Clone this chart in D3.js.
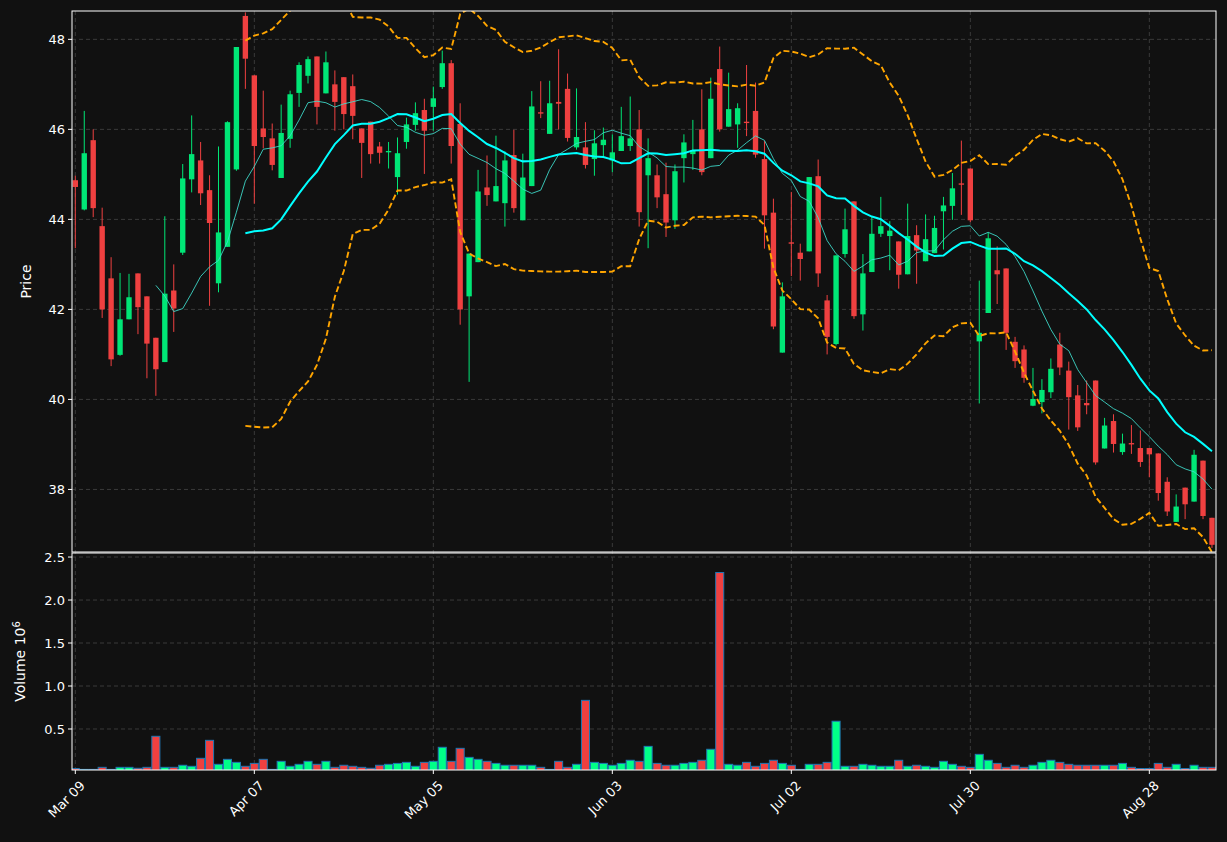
<!DOCTYPE html>
<html><head><meta charset="utf-8">
<script src="https://cdn.jsdelivr.net/npm/d3@7"></script>
<style>html,body{margin:0;background:#111111;}svg{display:block;font-family:"DejaVu Sans",sans-serif;}</style>
</head><body><svg id="c" width="1227" height="842"></svg>
<script>
const opens  = [44.87,44.22,45.76,43.85,42.69,40.99,41.78,42.80,42.29,41.37,40.83,42.42,43.26,44.89,45.31,44.65,42.58,43.39,45.11,48.52,
47.20,46.02,45.80,44.92,45.79,46.81,47.19,47.62,46.80,47.00,47.16,46.96,46.02,46.17,45.62,45.49,44.94,45.72,46.10,46.43,
46.50,46.94,47.47,46.12,42.29,43.05,44.71,44.40,44.36,45.43,43.98,44.74,46.38,45.90,46.61,46.90,45.60,45.60,45.34,45.65,
45.31,45.52,45.63,46.00,44.98,44.98,44.56,43.98,45.36,45.45,46.00,45.36,47.34,46.06,46.11,46.17,46.41,45.34,44.15,41.04,
43.49,43.26,43.29,44.96,42.20,41.23,43.23,44.40,41.89,42.83,43.68,43.63,43.51,42.78,43.65,43.07,43.25,44.18,44.30,44.80,
45.13,41.29,41.92,42.87,42.91,41.28,41.11,39.86,39.94,40.16,41.22,40.64,40.09,39.92,40.42,38.91,39.52,38.83,39.03,38.92,
38.92,38.80,38.17,37.28,38.04,37.73,38.64,37.37];
const highs  = [44.97,46.41,46.00,44.26,43.16,42.81,42.79,42.80,42.29,41.37,44.07,43.00,45.23,46.31,45.72,44.98,45.62,46.18,47.83,48.60,
47.20,46.86,46.13,46.55,46.86,47.49,47.62,47.62,47.73,47.31,47.16,47.22,46.02,46.17,45.72,45.72,45.82,46.26,46.60,46.68,
46.95,47.75,47.54,46.58,43.24,45.10,45.42,45.86,45.51,45.99,45.46,46.85,47.07,47.08,47.78,47.24,46.91,46.16,45.98,46.04,
45.89,46.50,46.73,46.43,45.80,45.22,45.26,45.22,45.89,46.21,46.89,47.15,47.84,47.26,46.58,47.43,47.04,45.74,44.46,42.60,
44.61,43.46,44.94,45.33,42.32,43.20,44.24,44.40,43.23,44.07,44.50,43.96,43.51,44.35,43.87,44.11,44.08,44.50,45.03,45.75,
45.13,42.64,43.71,43.40,42.91,41.39,41.20,40.70,40.45,40.91,41.48,40.84,40.32,40.42,40.42,39.59,39.67,39.24,39.43,39.31,
38.92,38.80,38.27,37.89,38.04,38.88,38.64,37.37];
const lows   = [43.36,44.20,44.05,41.81,40.74,40.97,41.78,41.45,40.47,40.08,40.83,41.50,43.21,44.60,44.32,42.08,42.38,43.39,45.08,46.90,
44.35,45.58,45.09,44.92,45.59,46.50,47.02,46.11,46.80,45.97,46.00,45.78,44.92,45.24,45.24,45.13,44.55,45.57,45.97,45.01,
45.97,46.90,45.24,41.66,40.39,43.05,44.30,44.40,43.84,44.15,43.98,44.74,46.25,45.90,46.00,45.73,45.55,45.13,44.97,45.39,
45.05,45.52,45.52,43.84,43.36,44.25,43.61,43.79,44.82,45.10,44.98,45.36,45.95,46.06,45.59,45.85,45.37,43.35,41.56,41.04,
42.74,42.64,43.29,42.50,41.00,41.20,43.15,41.79,41.53,42.83,43.61,42.87,42.46,42.78,42.57,43.07,43.25,43.33,43.99,44.10,
43.94,39.91,41.92,42.12,41.10,40.70,40.37,39.85,39.69,40.03,40.54,39.33,39.30,39.67,38.55,38.91,38.82,38.77,38.79,38.50,
38.27,37.75,37.41,37.28,37.34,37.73,37.34,36.70];
const closes = [44.72,45.47,44.25,42.00,40.89,41.78,42.27,42.05,41.24,40.67,42.35,42.02,44.91,45.45,44.58,43.92,43.71,46.16,47.83,47.57,
45.63,45.83,45.21,45.92,46.78,47.43,47.56,46.50,47.49,46.61,46.34,46.30,45.70,45.45,45.48,45.52,45.47,46.11,46.36,45.97,
46.69,47.47,45.63,42.00,43.24,44.62,44.54,44.74,45.31,44.25,44.93,46.51,46.35,46.58,46.57,45.81,45.83,45.21,45.69,45.77,
45.49,45.85,45.80,44.16,45.36,44.49,43.93,45.07,45.71,45.54,45.05,46.68,46.00,46.45,46.47,46.14,45.44,44.09,41.62,42.29,
43.46,43.12,44.94,42.80,41.39,43.20,43.78,41.85,42.80,43.68,43.85,43.75,42.77,43.63,43.31,43.56,43.81,44.31,44.69,44.77,
43.98,41.48,43.58,42.78,41.48,40.85,40.48,40.01,40.21,40.68,40.71,40.05,39.38,39.87,38.60,39.42,39.01,39.02,39.00,38.61,
38.78,37.92,37.51,37.62,37.67,38.77,37.41,36.77];
const volumes = [0.04,0.03,0.03,0.054,0.03,0.054,0.054,0.043,0.054,0.415,0.054,0.054,0.078,0.066,0.159,0.368,0.089,0.147,0.112,0.066,
0.10,0.147,0.03,0.124,0.066,0.089,0.124,0.089,0.124,0.054,0.078,0.066,0.054,0.043,0.078,0.089,0.10,0.112,0.066,0.112,
0.124,0.287,0.124,0.275,0.17,0.147,0.124,0.10,0.078,0.078,0.078,0.078,0.054,0.03,0.124,0.054,0.089,0.833,0.112,0.10,
0.078,0.10,0.136,0.124,0.298,0.10,0.078,0.078,0.10,0.112,0.136,0.264,2.32,0.089,0.078,0.112,0.066,0.10,0.136,0.10,
0.078,0.03,0.089,0.089,0.112,0.59,0.066,0.066,0.089,0.078,0.066,0.066,0.136,0.066,0.078,0.066,0.054,0.124,0.089,0.066,
0.054,0.205,0.136,0.10,0.054,0.078,0.054,0.078,0.112,0.136,0.112,0.089,0.078,0.078,0.078,0.078,0.078,0.10,0.054,0.04,
0.04,0.10,0.054,0.089,0.04,0.078,0.054,0.054];
const tickIndex = [0,20,40,60,80,100,120];
const tickLabels = ["Mar 09","Apr 07","May 05","Jun 03","Jul 02","Jul 30","Aug 28"];
const priceTicks = [38,40,42,44,46,48];
const volumeTicks = [0.5,1.0,1.5,2.0,2.5];

const UP="#00e676", DOWN="#ef4040", GRID="#3a3a3a";
const n = closes.length;
const svg = d3.select("#c");
const L=72, R=1216, PT=11, PB=552, VT=553, VB=770;
const x = d3.scaleLinear().domain([-0.37,127.45]).range([L,R]);
const y = d3.scaleLinear().domain([36.61,48.63]).range([PB,PT]);
const yv = d3.scaleLinear().domain([0.023,2.547]).range([VB,VT]);
const bw = (x(1)-x(0));

function clip(id,t,b){svg.append("clipPath").attr("id",id).append("rect").attr("x",L).attr("y",t).attr("width",R-L).attr("height",b-t);}
clip("cp",PT,PB); clip("cv",VT,VB);

const gp = svg.append("g");
gp.selectAll(".hp").data(priceTicks).join("line").attr("x1",L).attr("x2",R).attr("y1",d=>y(d)).attr("y2",d=>y(d));
gp.selectAll(".hv").data(volumeTicks).join("line").attr("class","hv").attr("x1",L).attr("x2",R).attr("y1",d=>yv(d)).attr("y2",d=>yv(d));
gp.selectAll(".vx").data(tickIndex).join("line").attr("class","vx").attr("x1",d=>x(d)).attr("x2",d=>x(d)).attr("y1",PT).attr("y2",VB);
gp.selectAll("line").attr("stroke",GRID).attr("stroke-dasharray","4,3").attr("stroke-width",1);

const ma = (k)=>closes.map((c,i)=> i<k-1?null:d3.mean(closes.slice(i-k+1,i+1)));
const ma10 = ma(10), ma20 = ma(20);
const sd20 = closes.map((c,i)=> i<19?null:d3.deviation(closes.slice(i-19,i+1)));
const upper = ma20.map((m,i)=>m==null?null:m+2*sd20[i]);
const lower = ma20.map((m,i)=>m==null?null:m-2*sd20[i]);
const line = d3.line().defined(d=>d[1]!=null).x(d=>x(d[0])).y(d=>y(d[1]));
const pg = svg.append("g").attr("clip-path","url(#cp)");

const cg = pg.append("g");
closes.forEach((c,i)=>{
  const col = c>=opens[i]?UP:DOWN;
  cg.append("line").attr("x1",x(i)).attr("x2",x(i)).attr("y1",y(highs[i])).attr("y2",y(lows[i])).attr("stroke",col).attr("stroke-width",1);
  const t=y(Math.max(c,opens[i])), b=y(Math.min(c,opens[i]));
  cg.append("rect").attr("x",x(i)-bw*0.3).attr("width",bw*0.6).attr("y",t).attr("height",Math.max(1,b-t)).attr("fill",col);
});
const idx = d3.range(n);
pg.append("path").attr("d",line(idx.map(i=>[i,ma10[i]]))).attr("fill","none").attr("stroke","#40e0d0").attr("stroke-opacity",0.85).attr("stroke-width",1);
pg.append("path").attr("d",line(idx.map(i=>[i,ma20[i]]))).attr("fill","none").attr("stroke","#00ffff").attr("stroke-width",2);
[upper,lower].forEach(s=>pg.append("path").attr("d",line(idx.map(i=>[i,s[i]]))).attr("fill","none").attr("stroke","#ffa500").attr("stroke-width",1.9).attr("stroke-dasharray","6,3"));

const vg = svg.append("g").attr("clip-path","url(#cv)");
volumes.forEach((v,i)=>{
  vg.append("rect").attr("x",x(i)-bw*0.45).attr("width",bw*0.9).attr("y",yv(v)).attr("height",Math.max(0,yv(0)-yv(v)))
    .attr("fill",closes[i]>=opens[i]?"#00ff88":DOWN).attr("stroke","#1f77b4").attr("stroke-width",1);
});

[[PT,PB],[VT,VB]].forEach(([t,b])=>svg.append("rect").attr("x",L).attr("y",t).attr("width",R-L).attr("height",b-t).attr("fill","none").attr("stroke","#ffffff").attr("stroke-width",1));

const ax = svg.append("g").attr("fill","#ffffff").attr("font-size",13);
priceTicks.forEach(p=>{
  ax.append("line").attr("x1",L-4).attr("x2",L).attr("y1",y(p)).attr("y2",y(p)).attr("stroke","#fff");
  ax.append("text").attr("x",L-7).attr("y",y(p)).attr("dy","0.35em").attr("text-anchor","end").text(p);
});
volumeTicks.forEach(p=>{
  ax.append("line").attr("x1",L-4).attr("x2",L).attr("y1",yv(p)).attr("y2",yv(p)).attr("stroke","#fff");
  ax.append("text").attr("x",L-7).attr("y",yv(p)).attr("dy","0.35em").attr("text-anchor","end").text(p.toFixed(1));
});
tickIndex.forEach((k,j)=>{
  ax.append("line").attr("x1",x(k)).attr("x2",x(k)).attr("y1",VB).attr("y2",VB+4).attr("stroke","#fff");
  ax.append("text").attr("transform",`translate(${x(k)+4},${VB+10}) rotate(-45)`).attr("text-anchor","end").attr("dy","0.7em").text(tickLabels[j]);
});
ax.append("text").attr("transform",`translate(31,${(PT+PB)/2}) rotate(-90)`).attr("text-anchor","middle").attr("font-size",14).text("Price");
const vt = ax.append("text").attr("transform",`translate(25,${(VT+VB)/2}) rotate(-90)`).attr("text-anchor","middle").attr("font-size",14);
vt.append("tspan").text("Volume  10");
vt.append("tspan").attr("dy","-0.5em").attr("font-size",10).text("6");
</script></body></html>
